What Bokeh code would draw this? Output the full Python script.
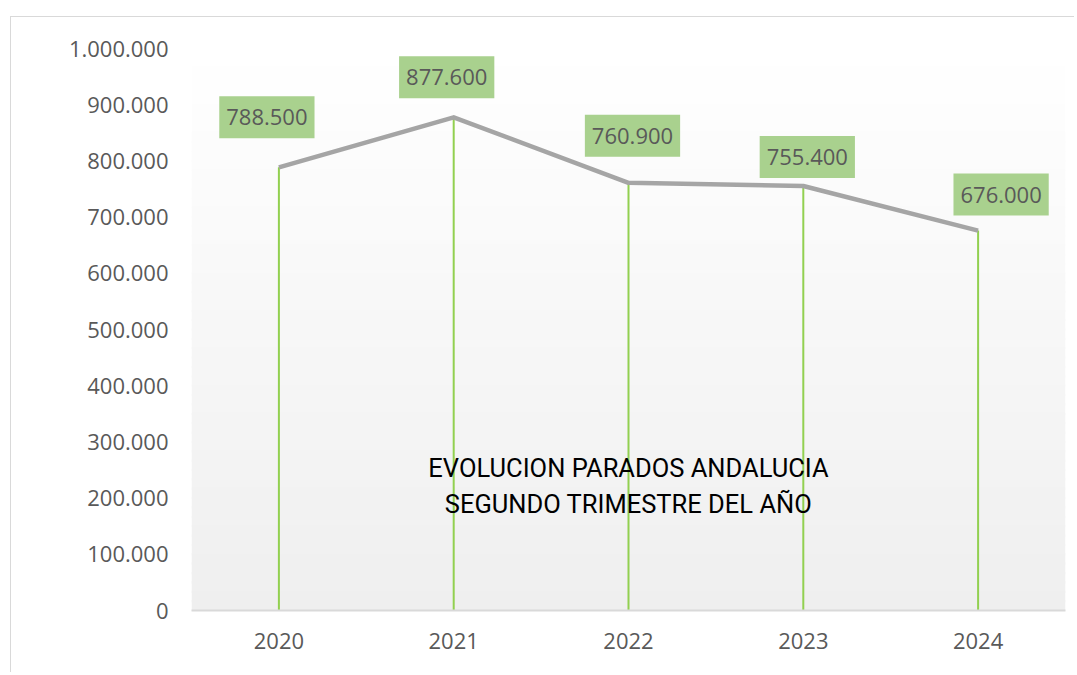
from bokeh.plotting import figure
from bokeh.models import FactorRange, Range1d, BoxAnnotation, ColumnDataSource, FixedTicker
from bokeh.core.properties import value
from bokeh.embed import file_html
from bokeh.resources import INLINE
import numpy as np

# ---- data ----
years = ["2020", "2021", "2022", "2023", "2024"]
parados = [788500, 877600, 760900, 755400, 676000]
value_labels = ["788.500", "877.600", "760.900", "755.400", "676.000"]
y_ticks = [0, 100000, 200000, 300000, 400000, 500000, 600000, 700000, 800000, 900000, 1000000]
y_tick_labels = ["0", "100.000", "200.000", "300.000", "400.000", "500.000",
                 "600.000", "700.000", "800.000", "900.000", "1.000.000"]
chart_title = "EVOLUCION PARADOS ANDALUCIA\nSEGUNDO TRIMESTRE DEL AÑO"

# ---- style ----
label_dx = [-12, -7, 4, 4, 23]
label_dy = [-50, -40, -47, -29, -36]
FONT = "Open Sans"
TXT = "#595959"

p = figure(x_range=FactorRange(factors=years), y_range=Range1d(0, 1000000),
           width=1064, height=656, output_backend="svg", toolbar_location=None,
           min_border_left=180, min_border_top=31, min_border_right=10, min_border_bottom=63,
           margin=(16, 0, 0, 10),
           styles={"border-left": "1.5px solid #d9d9d9", "border-top": "1.5px solid #d9d9d9",
                   "border-right": "none", "border-bottom": "none"})

p.background_fill_color = "white"
p.border_fill_color = "white"
p.outline_line_color = None
p.grid.visible = False

# gradient plot-area background
n = 60
edges = np.linspace(1000000, 0, n + 1)
for i in range(n):
    t = (i + 0.5) / n
    c = int(round(255 - t * (255 - 239)))
    col = "#%02x%02x%02x" % (c, c, c)
    p.add_layout(BoxAnnotation(top=edges[i] + 2000, bottom=edges[i + 1] - 2000,
                               fill_color=col, fill_alpha=1.0, line_alpha=0, level="underlay"))

src = ColumnDataSource(dict(x=years, y=parados, lab=value_labels, dx=label_dx, dy=label_dy,
                            zero=[0] * len(years)))

p.segment(x0="x", y0="zero", x1="x", y1="y", source=src, line_color="#92d050", line_width=2)
p.line(x="x", y="y", source=src, line_color="#a5a5a5", line_width=4.5, line_join="round")

p.text(x="x", y="y", text="lab", source=src, x_offset="dx", y_offset="dy",
       text_align="center", text_baseline="middle",
       text_font=value(FONT), text_font_size="22px", text_color=TXT,
       background_fill_color="#a9d18e", padding=(7, 7, 13, 13))

p.text(x=["2022"], y=[222000], text=[chart_title], text_align="center", text_baseline="middle",
       text_font=value("Roboto"), text_font_size="25.5px", text_color="black",
       text_line_height=1.2)

# axes
p.yaxis.ticker = FixedTicker(ticks=y_ticks)
p.yaxis.major_label_overrides = {t: l for t, l in zip(y_ticks, y_tick_labels)}
p.yaxis.axis_line_color = None
p.yaxis.major_tick_line_color = None
p.yaxis.minor_tick_line_color = None
p.yaxis.major_tick_out = 0
p.yaxis.major_tick_in = 0
p.yaxis.major_label_standoff = 23
p.yaxis.major_label_text_font = FONT
p.yaxis.major_label_text_font_size = "22px"
p.yaxis.major_label_text_color = TXT

p.xaxis.axis_line_color = "#d9d9d9"
p.xaxis.axis_line_width = 2
p.xaxis.major_tick_line_color = None
p.xaxis.minor_tick_line_color = None
p.xaxis.major_tick_out = 0
p.xaxis.major_tick_in = 0
p.xaxis.major_label_standoff = 22
p.xaxis.major_label_text_font = FONT
p.xaxis.major_label_text_font_size = "22px"
p.xaxis.major_label_text_color = TXT

open("out.html", "w").write(file_html(p, INLINE))
